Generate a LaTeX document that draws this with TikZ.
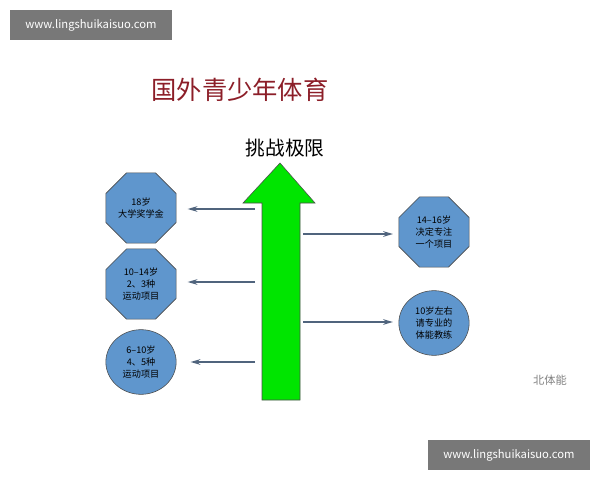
\documentclass[tikz,border=0pt]{standalone}
\usepackage{fontspec}
\setmainfont{Noto Sans CJK SC}
\usetikzlibrary{shapes.geometric,arrows.meta}
\definecolor{boxblue}{RGB}{95,150,205}
\definecolor{titlered}{RGB}{140,30,40}
\definecolor{wmgray}{RGB}{120,120,120}
\definecolor{arrowgray}{RGB}{80,100,125}
\begin{document}
\begin{tikzpicture}[x=0.025cm,y=-0.025cm]
  \tikzset{octbox/.style={draw=black!70,fill=boxblue,regular polygon,regular polygon sides=8,minimum size=54pt,inner sep=0pt,align=center,font=\fontsize{6.5}{8.5}\selectfont},
    roundbox/.style={draw=black!70,fill=boxblue,ellipse,minimum width=50pt,minimum height=46pt,inner sep=0pt,align=center,font=\fontsize{6.5}{8.5}\selectfont},
    pointer/.style={draw=arrowgray,line width=1.6pt,-{Stealth[length=7pt,width=4pt]}},
    stamp/.style={fill=wmgray,text=white,font=\fontsize{8}{10}\selectfont,minimum width=115pt,minimum height=21pt,inner sep=0pt}}
  \useasboundingbox (0,0) rectangle (600,480);

  \node[stamp] (wm1) at (91,25) {www.lingshuikaisuo.com};
  \node[stamp] (wm2) at (509,455) {www.lingshuikaisuo.com};
  \node[text=titlered,font=\fontsize{18}{20}\selectfont] (title) at (240,90) {国外青少年体育};
  \node[font=\fontsize{14}{16}\selectfont] (goal) at (285,148) {挑战极限};

  % green arrow
  \draw[black!70,fill=green!90!black] (262,400) -- (262,203) -- (243,203) -- (280,163)
    -- (315,203) -- (300,203) -- (300,400) -- cycle;

  \node[octbox] (s18) at (141,208) {18岁\\大学奖学金};
  \node[octbox] (s10) at (141,284) {10--14岁\\2、3种\\运动项目};
  \node[roundbox] (s6) at (141,362) {6--10岁\\4、5种\\运动项目};
  \node[octbox] (s14) at (434,232) {14--16岁\\决定专注\\一个项目};
  \node[roundbox] (s10b) at (434,323) {10岁左右\\请专业的\\体能教练};

  \coordinate (a1) at (255,209);
  \coordinate (a2) at (255,282);
  \coordinate (a3) at (255,362);
  \coordinate (a4) at (303,234);
  \coordinate (a5) at (303,322);
  \draw[pointer] (a1) -- ([xshift=8pt]s18.east |- a1);
  \draw[pointer] (a2) -- ([xshift=8pt]s10.east |- a2);
  \draw[pointer] (a3) -- ([xshift=10pt]s6.east |- a3);
  \draw[pointer] (a4) -- ([xshift=-4pt]s14.west |- a4);
  \draw[pointer] (a5) -- ([xshift=-4pt]s10b.west |- a5);

  \node[text=black!50,font=\fontsize{8}{10}\selectfont] (mark) at (550,380) {北体能};
\end{tikzpicture}
\end{document}
